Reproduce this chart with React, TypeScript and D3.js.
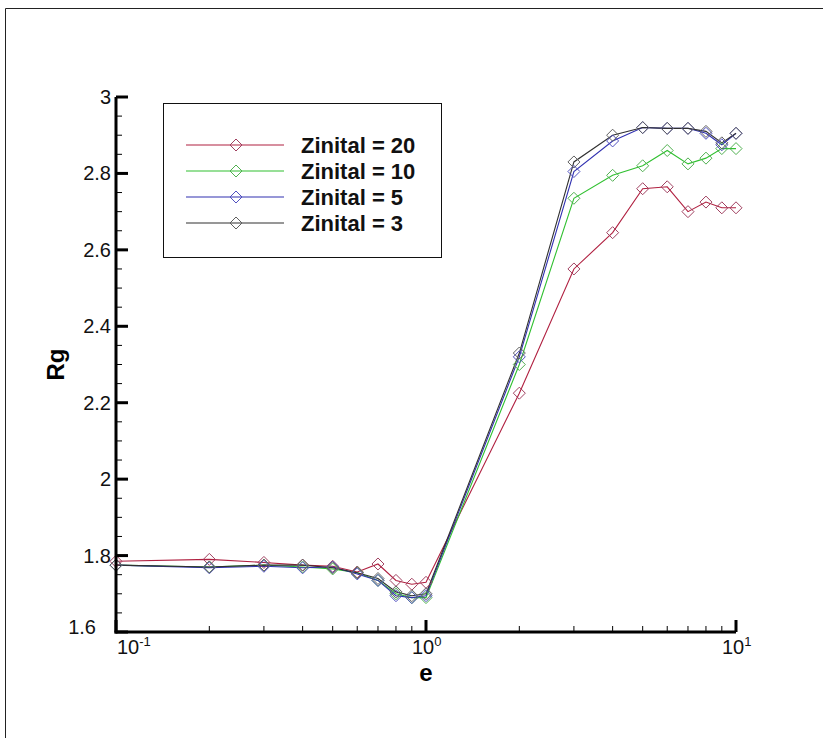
import { useEffect, useRef } from "react";
import * as d3 from "d3";

const eValues = [0.1, 0.2, 0.3, 0.4, 0.5, 0.6, 0.7, 0.8, 0.9, 1, 2, 3, 4, 5, 6, 7, 8, 9, 10];

const rg20 = [1.785, 1.79, 1.782, 1.775, 1.772, 1.757, 1.778, 1.735, 1.725, 1.73, 2.225, 2.55, 2.645, 2.76, 2.765, 2.7, 2.725, 2.71, 2.71];
const rg10 = [1.775, 1.77, 1.775, 1.77, 1.765, 1.755, 1.735, 1.7, 1.69, 1.69, 2.3, 2.735, 2.795, 2.82, 2.86, 2.825, 2.84, 2.865, 2.865];
const rg5 = [1.775, 1.768, 1.772, 1.768, 1.77, 1.752, 1.735, 1.695, 1.69, 1.695, 2.32, 2.805, 2.885, 2.92, 2.918, 2.918, 2.905, 2.875, 2.905];
const rg3 = [1.775, 1.77, 1.775, 1.775, 1.768, 1.755, 1.74, 1.705, 1.695, 1.7, 2.33, 2.83, 2.9, 2.92, 2.918, 2.918, 2.91, 2.88, 2.905];

const seriesLabels = ["Zinital = 20", "Zinital = 10", "Zinital = 5", "Zinital = 3"];
const seriesValues = [rg20, rg10, rg5, rg3];
const lineColors = ["#b02040", "#30c030", "#3030b0", "#303030"];
const markerColors = ["#a04060", "#50b050", "#5050c0", "#606060"];

const yTicks = [1.6, 1.8, 2, 2.2, 2.4, 2.6, 2.8, 3];
const xTickExps = [-1, 0, 1];

const W = 823;
const H = 738;
const FONT = "Liberation Sans, Arial, sans-serif";

const App = () => {
    const svgRef = useRef<SVGSVGElement>(null);

    useEffect(() => {
        const svg = d3.select(svgRef.current);
        svg.selectAll("*").remove();

        const x = d3.scaleLog().domain([0.1, 10]).range([116, 736]);
        const y = d3.scaleLinear().domain([1.6, 3]).range([632, 97]);

        // outer frame
        svg.append("path")
            .attr("d", `M5.5,${H} L5.5,8.5 L${W},8.5`)
            .attr("fill", "none")
            .attr("stroke", "#222")
            .attr("stroke-width", 1);

        const g = svg.append("g");

        // data lines
        const line = d3.line<number>()
            .x((_, i) => x(eValues[i]))
            .y(d => y(d));

        const diamond = (cx: number, cy: number, r: number) =>
            `M${cx},${cy - r} L${cx + r},${cy} L${cx},${cy + r} L${cx - r},${cy} Z`;

        seriesValues.forEach((vals, si) => {
            g.append("path")
                .datum(vals)
                .attr("d", line)
                .attr("fill", "none")
                .attr("stroke", lineColors[si])
                .attr("stroke-width", 1.1);
        });
        seriesValues.forEach((vals, si) => {
            g.selectAll(null)
                .data(vals)
                .enter()
                .append("path")
                .attr("d", (d, i) => diamond(x(eValues[i]), y(d), 6))
                .attr("fill", "none")
                .attr("stroke", markerColors[si])
                .attr("stroke-width", 1);
        });

        // y axis
        const axisColor = "#000";
        g.append("line")
            .attr("x1", x(0.1)).attr("x2", x(0.1))
            .attr("y1", y(3)).attr("y2", y(1.6) + 1.5)
            .attr("stroke", axisColor).attr("stroke-width", 3);
        d3.range(1.6, 3.0001, 0.05).forEach(v => {
            const major = yTicks.some(t => Math.abs(t - v) < 1e-6);
            g.append("line")
                .attr("x1", x(0.1)).attr("x2", x(0.1) + (major ? 12 : 6))
                .attr("y1", y(v)).attr("y2", y(v))
                .attr("stroke", axisColor).attr("stroke-width", major ? 3 : 1);
        });
        yTicks.forEach(t => {
            const isBottom = t === 1.6;
            g.append("text")
                .attr("x", isBottom ? 96 : 111)
                .attr("y", y(t) + (isBottom ? 2 : 7))
                .attr("text-anchor", "end")
                .attr("font-family", FONT)
                .attr("font-size", 20)
                .attr("fill", "#111")
                .text(d3.format("~g")(t));
        });

        // x axis
        g.append("line")
            .attr("x1", x(0.1) - 1.5).attr("x2", x(10))
            .attr("y1", y(1.6)).attr("y2", y(1.6))
            .attr("stroke", axisColor).attr("stroke-width", 3);
        [-1, 0].forEach(p => {
            for (let k = 2; k <= 9; k++) {
                const v = k * Math.pow(10, p);
                g.append("line")
                    .attr("x1", x(v)).attr("x2", x(v))
                    .attr("y1", y(1.6)).attr("y2", y(1.6) - 6)
                    .attr("stroke", axisColor).attr("stroke-width", 1);
            }
        });
        xTickExps.forEach(p => {
            const v = Math.pow(10, p);
            g.append("line")
                .attr("x1", x(v)).attr("x2", x(v))
                .attr("y1", y(1.6)).attr("y2", y(1.6) - 12)
                .attr("stroke", axisColor).attr("stroke-width", 3);
            const t = g.append("text")
                .attr("x", x(v) + (p === -1 ? 1 : -14))
                .attr("y", y(1.6) + 22)
                .attr("text-anchor", "start")
                .attr("font-family", FONT)
                .attr("font-size", 20)
                .attr("fill", "#111");
            t.append("tspan").text("10");
            t.append("tspan").attr("dy", -8).attr("font-size", 13).text(String(p));
        });

        // axis titles
        g.append("text")
            .attr("x", x(1))
            .attr("y", 681)
            .attr("text-anchor", "middle")
            .attr("font-family", FONT)
            .attr("font-weight", "bold")
            .attr("font-size", 24)
            .text("e");
        g.append("text")
            .attr("transform", `translate(64,${y(2.3)}) rotate(-90)`)
            .attr("text-anchor", "middle")
            .attr("font-family", FONT)
            .attr("font-weight", "bold")
            .attr("font-size", 24)
            .text("Rg");

        // legend
        const lg = svg.append("g");
        lg.append("rect")
            .attr("x", 163.5).attr("y", 103.5)
            .attr("width", 278).attr("height", 154)
            .attr("fill", "#fff")
            .attr("stroke", "#111").attr("stroke-width", 1);
        seriesLabels.forEach((label, i) => {
            const ly = 145 + i * 26;
            lg.append("line")
                .attr("x1", 186).attr("x2", 284)
                .attr("y1", ly).attr("y2", ly)
                .attr("stroke", lineColors[i]).attr("stroke-width", 1.1);
            lg.append("path")
                .attr("d", diamond(236, ly, 6))
                .attr("fill", "none")
                .attr("stroke", markerColors[i]);
            lg.append("text")
                .attr("x", 301).attr("y", ly + 8)
                .attr("font-family", FONT)
                .attr("font-weight", "bold")
                .attr("font-size", 22)
                .attr("fill", "#111")
                .text(label);
        });
    }, []);

    return (
        <svg
            ref={svgRef}
            width={W}
            height={H}
            style={{ position: "absolute", left: 0, top: 0, background: "#fff" }}
        />
    );
};

export default App;
